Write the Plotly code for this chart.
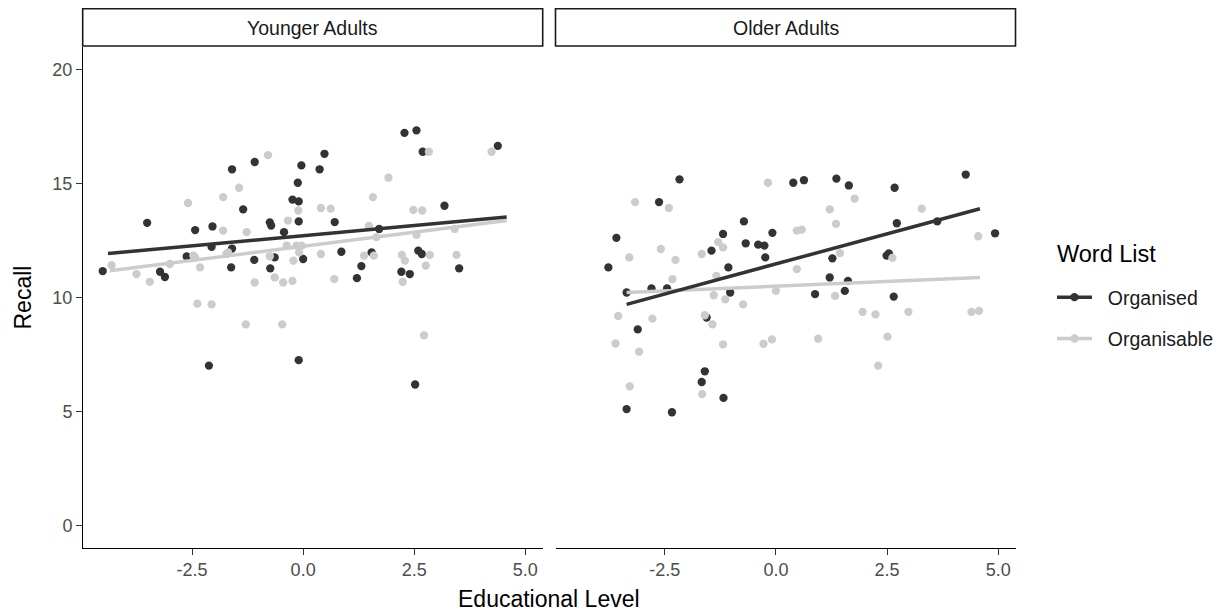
import plotly.graph_objects as go

# ---------------- data ----------------
panel_titles = ["Younger Adults", "Older Adults"]
groups = ["Organised", "Organisable"]
group_colors = ["#333333", "#cccccc"]

young_organised_x = [-4.51, -3.51, -3.22, -3.11, -2.62, -2.43, -2.12, -2.06, -2.04, -1.62,
                     -1.60, -1.60, -1.35, -1.10, -1.09, -0.75, -0.72, -0.74, -0.64, -0.43,
                     -0.24, -0.12, -0.10, -0.10, -0.10, -0.04, 0.00, 0.37, 0.48, 0.71,
                     0.86, 1.21, 1.31, 1.54, 1.71, 2.21, 2.28, 2.40, 2.52, 2.55,
                     2.59, 2.67, 2.69, 3.18, 3.51, 4.38]
young_organised_y = [11.16, 13.28, 11.13, 10.90, 11.80, 12.96, 7.01, 12.22, 13.12, 11.32,
                     15.63, 12.15, 13.87, 11.65, 15.95, 13.30, 13.16, 11.28, 11.76, 12.87,
                     14.30, 15.04, 14.22, 13.34, 7.25, 15.80, 11.69, 15.63, 16.31, 13.31,
                     12.01, 10.85, 11.38, 11.98, 13.01, 11.13, 17.23, 11.03, 6.18, 17.34,
                     12.06, 11.91, 16.40, 14.03, 11.28, 16.66]

young_organisable_x = [-4.31, -3.75, -3.45, -3.00, -2.59, -2.47, -2.43, -2.38, -2.32, -2.06,
                       -1.80, -1.80, -1.73, -1.69, -1.44, -1.29, -1.27, -1.09, -0.79, -0.75,
                       -0.64, -0.47, -0.45, -0.37, -0.34, -0.24, -0.22, -0.15, -0.11, -0.09,
                       -0.03, 0.40, 0.40, 0.62, 0.70, 1.37, 1.48, 1.57, 1.59, 1.65,
                       1.92, 2.22, 2.24, 2.29, 2.48, 2.55, 2.68, 2.72, 2.76, 2.83,
                       2.85, 3.41, 3.45, 4.24]
young_organisable_y = [11.42, 11.03, 10.69, 11.47, 14.15, 11.84, 11.76, 9.73, 11.32, 9.70,
                       14.41, 12.94, 11.91, 11.98, 14.82, 8.82, 12.87, 10.66, 16.25, 11.81,
                       10.88, 8.82, 10.66, 12.28, 13.38, 10.73, 11.62, 12.28, 13.82, 11.98,
                       12.28, 11.91, 13.93, 13.90, 10.81, 11.84, 13.14, 14.41, 11.84, 12.65,
                       15.26, 11.87, 10.69, 11.62, 13.85, 12.75, 13.82, 8.34, 11.40, 16.40,
                       11.87, 13.01, 11.87, 16.40]

older_organised_x = [-3.77, -3.59, -3.36, -3.11, -3.36, -2.80, -2.63, -2.45, -2.34, -2.17,
                     -1.67, -1.60, -1.56, -1.45, -1.19, -1.18, -1.07, -1.03, -0.72, -0.68,
                     -0.40, -0.26, -0.24, -0.08, 0.39, 0.63, 0.88, 1.21, 1.27, 1.36,
                     1.55, 1.62, 1.64, 2.49, 2.54, 2.65, 2.67, 2.72, 3.63, 4.27, 4.93]
older_organised_y = [11.32, 12.62, 10.22, 8.60, 5.10, 10.40, 14.19, 10.40, 4.96, 15.19,
                     6.29, 6.76, 9.12, 12.06, 12.79, 5.59, 11.32, 10.22, 13.34, 12.38,
                     12.32, 12.28, 11.76, 12.84, 15.04, 15.15, 10.15, 10.88, 11.72, 15.22,
                     10.29, 10.73, 14.92, 11.84, 11.94, 10.04, 14.82, 13.26, 13.34, 15.40, 12.82]

older_organisable_x = [-3.61, -3.55, -3.30, -3.29, -3.17, -3.08, -2.78, -2.59, -2.41, -2.33,
                       -2.26, -1.67, -1.66, -1.60, -1.43, -1.40, -1.34, -1.30, -1.19, -1.19,
                       -1.14, -0.74, -0.28, -0.18, -0.09, 0.00, 0.47, 0.47, 0.58, 0.95,
                       1.21, 1.33, 1.35, 1.44, 1.77, 1.95, 2.24, 2.30, 2.51, 2.62,
                       2.98, 3.28, 4.40, 4.55, 4.57]
older_organisable_y = [7.98, 9.19, 11.76, 6.10, 14.19, 7.62, 9.07, 12.13, 13.93, 10.81,
                       11.65, 11.91, 5.76, 9.22, 8.82, 10.10, 10.95, 12.43, 12.20, 7.94,
                       9.92, 9.70, 7.97, 15.04, 8.16, 10.29, 12.94, 11.25, 12.98, 8.19,
                       13.87, 10.07, 13.23, 11.95, 14.34, 9.37, 9.26, 7.01, 8.28, 11.74,
                       9.37, 13.90, 9.37, 12.69, 9.41]

# fitted (lm) lines: start and end
young_fit_x = [[-4.39, 4.58], [-4.35, 4.58]]
young_fit_y = [[11.93, 13.53], [11.17, 13.38]]
older_fit_x = [[-3.36, 4.59], [-3.36, 4.59]]
older_fit_y = [[9.70, 13.90], [10.22, 10.88]]

x_ticks = [-2.5, 0.0, 2.5, 5.0]
x_tick_text = ["-2.5", "0.0", "2.5", "5.0"]
y_ticks = [0, 5, 10, 15, 20]
y_tick_text = ["0", "5", "10", "15", "20"]

# ---------------- figure ----------------
W, H = 1228, 613
OFF = 8  # page body margin
FONT = "Liberation Sans, Arial, sans-serif"
fig = go.Figure()

panels = [
    ("x", "y", [young_organised_x, young_organisable_x], [young_organised_y, young_organisable_y],
     young_fit_x, young_fit_y),
    ("x2", "y2", [older_organised_x, older_organisable_x], [older_organised_y, older_organisable_y],
     older_fit_x, older_fit_y),
]

MS = 8.3
LW = 3.5
for xa, ya, pxs, pys, fxs, fys in panels:
    for gi in range(2):
        fig.add_trace(go.Scatter(x=pxs[gi], y=pys[gi], xaxis=xa, yaxis=ya, mode="markers",
                                 marker=dict(size=MS, color=group_colors[gi]),
                                 showlegend=False, hoverinfo="skip"))
    for gi in [1, 0]:
        fig.add_trace(go.Scatter(x=fxs[gi], y=fys[gi], xaxis=xa, yaxis=ya, mode="lines",
                                 line=dict(color=group_colors[gi], width=LW),
                                 showlegend=False, hoverinfo="skip"))

# legend entries
for gi in range(2):
    fig.add_trace(go.Scatter(x=[None], y=[None], mode="lines+markers",
                             name="\u00a0\u00a0" + groups[gi],
                             legendgroup=groups[gi],
                             line=dict(color=group_colors[gi], width=LW),
                             marker=dict(size=MS, color=group_colors[gi])))

def fx(p):
    return (p - OFF) / W

def fy(p):
    return 1 - (p - OFF) / H

px_l1, px_r1 = 82.7, 542.7
px_l2, px_r2 = 555.5, 1015.5
py_top, py_bot = 47, 548

ydom = [fy(py_bot), fy(py_top)]
x_range = [-4.96, 5.39]
y_range = [-1.0, 21.0]

TICK_FONT = dict(family=FONT, size=18, color="#4d4d4d")
axis_common = dict(showgrid=False, zeroline=False, ticks="outside", ticklen=5.5,
                   tickwidth=1.3, tickcolor="#333333", tickfont=TICK_FONT)

fig.update_layout(
    width=W, height=H,
    margin=dict(l=0, r=0, t=0, b=0, autoexpand=False),
    paper_bgcolor="white", plot_bgcolor="white",
    font=dict(family=FONT),
    xaxis=dict(domain=[fx(px_l1), fx(px_r1)], range=x_range, anchor="y",
               tickvals=x_ticks, ticktext=x_tick_text,
               showline=True, linecolor="black", linewidth=1.4, **axis_common),
    xaxis2=dict(domain=[fx(px_l2), fx(px_r2)], range=x_range, anchor="y2",
                tickvals=x_ticks, ticktext=x_tick_text,
                showline=True, linecolor="black", linewidth=1.4, **axis_common),
    yaxis=dict(domain=ydom, range=y_range, anchor="x",
               tickvals=y_ticks, ticktext=y_tick_text,
               showline=True, linecolor="black", linewidth=1.4, **axis_common),
    yaxis2=dict(domain=ydom, range=y_range, anchor="x2", showline=False,
                showticklabels=False, showgrid=False, zeroline=False, ticks=""),
    showlegend=True,
    legend=dict(x=fx(1052), xanchor="left", y=fy(278), yanchor="top",
                bgcolor="rgba(0,0,0,0)", tracegroupgap=13, itemwidth=35,
                font=dict(family=FONT, size=19.5, color="#1a1a1a")),
)

# facet strips
for (l, r), title in zip([(px_l1, px_r1), (px_l2, px_r2)], panel_titles):
    fig.add_shape(type="rect", xref="paper", yref="paper",
                  x0=fx(l), x1=fx(r), y0=fy(46), y1=fy(8.8),
                  line=dict(color="#1a1a1a", width=1.6), fillcolor="white")
    fig.add_annotation(text=title, xref="paper", yref="paper",
                       x=fx((l + r) / 2), y=fy(27.5), showarrow=False,
                       xanchor="center", yanchor="middle",
                       font=dict(family=FONT, size=19.5, color="#1a1a1a"))

# axis titles
fig.add_annotation(text="Educational Level", xref="paper", yref="paper",
                   x=fx((px_l1 + px_r2) / 2), y=fy(599), showarrow=False,
                   xanchor="center", yanchor="middle",
                   font=dict(family=FONT, size=23, color="black"))
fig.add_annotation(text="Recall", xref="paper", yref="paper",
                   x=fx(22), y=fy((py_top + py_bot) / 2), showarrow=False, textangle=-90,
                   xanchor="center", yanchor="middle",
                   font=dict(family=FONT, size=23, color="black"))
# legend title
fig.add_annotation(text="Word List", xref="paper", yref="paper",
                   x=fx(1055), y=fy(254), showarrow=False,
                   xanchor="left", yanchor="middle",
                   font=dict(family=FONT, size=23.5, color="black"))

fig.write_html("out.html")
